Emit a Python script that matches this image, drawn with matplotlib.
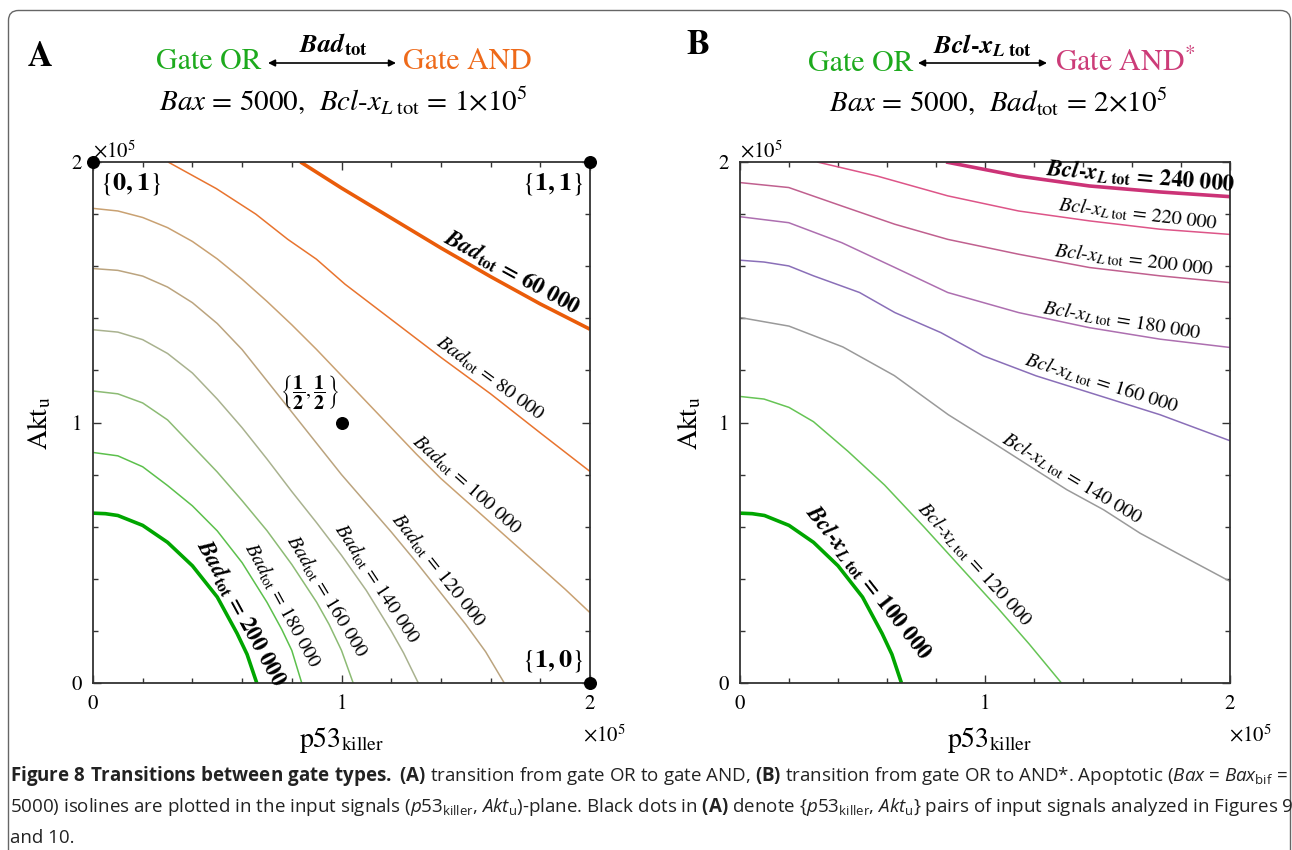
import numpy as np
import matplotlib
matplotlib.use('Agg')
import matplotlib.pyplot as plt
import matplotlib.transforms as mtransforms
from matplotlib.patches import FancyBboxPatch, FancyArrowPatch
from matplotlib.ticker import MultipleLocator

plt.rcParams['font.family'] = 'STIXGeneral'
plt.rcParams['mathtext.fontset'] = 'stix'
# the caption uses a sans "custom" math set
plt.rcParams['mathtext.rm'] = 'Open Sans'
plt.rcParams['mathtext.it'] = 'Open Sans:italic'
plt.rcParams['mathtext.bf'] = 'Open Sans:bold'

# ---------------- data (units of 1e5) ----------------
# panel A : isolines Bax = 5000 for several Bad_tot, Bcl-xL_tot = 1e5
bad60_x = [0.835, 1.0, 1.2, 1.4, 1.6, 1.8, 2.0]
bad60_y = [2.0, 1.90, 1.785, 1.67, 1.56, 1.455, 1.358]
bad80_x = [0.302, 0.496, 0.655, 0.784, 0.899, 1.014, 1.216, 1.4, 1.6, 1.8, 2.0]
bad80_y = [2.0, 1.898, 1.80, 1.703, 1.627, 1.531, 1.384, 1.25, 1.11, 0.96, 0.812]
bad100_x = [0, 0.1, 0.2, 0.3, 0.4, 0.5, 0.6, 0.7, 0.8, 0.9, 1.0, 1.1, 1.2, 1.3, 1.4, 1.5, 1.6, 1.7, 1.8, 1.9, 2.0]
bad100_y = [1.822, 1.812, 1.787, 1.748, 1.695, 1.628, 1.55, 1.465, 1.375, 1.28, 1.18, 1.08, 0.98, 0.88,
            0.785, 0.70, 0.615, 0.53, 0.445, 0.36, 0.27]
bad120_x = [0, 0.1, 0.2, 0.3, 0.4, 0.5, 0.6, 0.7, 0.8, 0.9, 1.0, 1.1, 1.2, 1.3, 1.4, 1.5, 1.58, 1.655]
bad120_y = [1.591, 1.584, 1.562, 1.52, 1.46, 1.38, 1.28, 1.16, 1.04, 0.92, 0.80, 0.69, 0.58, 0.465,
            0.345, 0.225, 0.12, 0.0]
bad140_x = [0, 0.1, 0.2, 0.3, 0.4, 0.5, 0.6, 0.7, 0.8, 0.9, 1.0, 1.1, 1.2, 1.25, 1.309]
bad140_y = [1.356, 1.347, 1.318, 1.265, 1.19, 1.09, 0.98, 0.86, 0.735, 0.615, 0.49, 0.355, 0.2, 0.115, 0.0]
bad160_x = [0, 0.1, 0.2, 0.3, 0.4, 0.5, 0.6, 0.7, 0.8, 0.9, 0.95, 1.0, 1.047]
bad160_y = [1.121, 1.11, 1.075, 1.01, 0.91, 0.81, 0.70, 0.585, 0.455, 0.31, 0.225, 0.125, 0.0]
bad180_x = [0, 0.1, 0.2, 0.3, 0.4, 0.5, 0.6, 0.7, 0.76, 0.8, 0.84]
bad180_y = [0.885, 0.872, 0.83, 0.758, 0.68, 0.584, 0.462, 0.31, 0.205, 0.125, 0.0]
bad200_x = [0, 0.05, 0.1, 0.2, 0.3, 0.4, 0.5, 0.58, 0.62, 0.659]
bad200_y = [0.652, 0.65, 0.643, 0.605, 0.54, 0.45, 0.33, 0.19, 0.11, 0.0]
bad_names = ['60 000', '80 000', '100 000', '120 000', '140 000', '160 000', '180 000', '200 000']

# panel B : isolines for several Bcl-xL_tot, Bad_tot = 2e5
bcl240_x = [0.841, 1.137, 1.426, 1.714, 2.0]
bcl240_y = [2.0, 1.946, 1.908, 1.885, 1.867]
bcl220_x = [0.315, 0.56, 0.848, 1.137, 1.426, 1.714, 2.0]
bcl220_y = [2.0, 1.946, 1.87, 1.812, 1.774, 1.742, 1.722]
bcl200_x = [0, 0.199, 0.416, 0.632, 0.848, 1.137, 1.426, 1.714, 2.0]
bcl200_y = [1.921, 1.902, 1.831, 1.761, 1.703, 1.646, 1.595, 1.563, 1.537]
bcl180_x = [0, 0.199, 0.416, 0.632, 0.848, 1.137, 1.426, 1.714, 2.0]
bcl180_y = [1.79, 1.767, 1.69, 1.595, 1.499, 1.422, 1.364, 1.32, 1.288]
bcl160_x = [0, 0.098, 0.199, 0.3, 0.488, 0.632, 0.82, 0.993, 1.209, 1.426, 1.714, 2.0]
bcl160_y = [1.623, 1.616, 1.601, 1.563, 1.499, 1.422, 1.345, 1.256, 1.179, 1.115, 1.03, 0.93]
bcl140_x = [0, 0.2, 0.42, 0.63, 0.85, 1.035, 1.185, 1.334, 1.484, 1.633, 1.783, 2.0]
bcl140_y = [1.403, 1.37, 1.29, 1.18, 1.03, 0.921, 0.831, 0.742, 0.665, 0.575, 0.499, 0.39]
bcl120_x = [0, 0.098, 0.2, 0.3, 0.44, 0.59, 0.75, 0.9, 1.05, 1.18, 1.312]
bcl120_y = [1.1, 1.09, 1.058, 1.003, 0.89, 0.76, 0.60, 0.445, 0.29, 0.15, 0.0]
bcl100_x = [0, 0.05, 0.1, 0.2, 0.3, 0.4, 0.5, 0.58, 0.62, 0.659]
bcl100_y = [0.652, 0.65, 0.643, 0.605, 0.54, 0.45, 0.33, 0.19, 0.11, 0.0]
bcl_names = ['240 000', '220 000', '200 000', '180 000', '160 000', '140 000', '120 000', '100 000']

# analysed input pairs (black dots in A)
dot_x = [0, 2, 2, 1]
dot_y = [2, 2, 0, 1]

# ---------------- styles ----------------
a_curves = [(bad60_x, bad60_y), (bad80_x, bad80_y), (bad100_x, bad100_y), (bad120_x, bad120_y),
            (bad140_x, bad140_y), (bad160_x, bad160_y), (bad180_x, bad180_y), (bad200_x, bad200_y)]
a_colors = ['#ea5c0a', '#e8742f', '#c9a172', '#bba47f', '#a9b28f', '#8cbb74', '#5cc04c', '#00a600']
a_lw = [2.6, 1.1, 1.1, 1.1, 1.1, 1.1, 1.1, 2.6]
a_lab_x = [1.66, 1.57, 1.47, 1.35, 1.1, 0.9, 0.72, 0.55]

b_curves = [(bcl240_x, bcl240_y), (bcl220_x, bcl220_y), (bcl200_x, bcl200_y), (bcl180_x, bcl180_y),
            (bcl160_x, bcl160_y), (bcl140_x, bcl140_y), (bcl120_x, bcl120_y), (bcl100_x, bcl100_y)]
b_colors = ['#cc3377', '#dd5588', '#c0608f', '#ad6fb0', '#8a6fb8', '#9a9a9a', '#66c455', '#00a600']
b_lw = [2.6, 1.1, 1.1, 1.1, 1.1, 1.1, 1.1, 2.6]
b_lab_x = [1.63, 1.62, 1.6, 1.55, 1.46, 1.33, 0.92, 0.48]

W, H = 1292, 850
fig = plt.figure(figsize=(W / 100, H / 100), dpi=100)


def fx(px):
    return px / W


def fy(py):
    return 1 - py / H


def setup(ax):
    ax.set_xlim(0, 2)
    ax.set_ylim(0, 2)
    ax.xaxis.set_major_locator(MultipleLocator(1))
    ax.yaxis.set_major_locator(MultipleLocator(1))
    ax.xaxis.set_minor_locator(MultipleLocator(0.2))
    ax.yaxis.set_minor_locator(MultipleLocator(0.2))
    ax.tick_params(which='both', direction='in', top=True, right=True, color='#333333', width=1.0)
    ax.tick_params(which='major', length=6, labelsize=15, pad=8)
    ax.tick_params(which='minor', length=3.5)
    for s in ax.spines.values():
        s.set_color('#333333')
        s.set_linewidth(1.3)


def curve_label(ax, xs, ys, x0, text, bold):
    y0 = np.interp(x0, xs, ys)
    p1 = ax.transData.transform((x0 - 0.02, np.interp(x0 - 0.02, xs, ys)))
    p2 = ax.transData.transform((x0 + 0.02, np.interp(x0 + 0.02, xs, ys)))
    ang = np.degrees(np.arctan2(p2[1] - p1[1], p2[0] - p1[0]))
    gap = 1.5
    ax.annotate(text, (x0, y0), xytext=(-np.sin(np.radians(ang)) * gap, np.cos(np.radians(ang)) * gap),
                textcoords='offset points', rotation=ang, rotation_mode='anchor',
                ha='center', va='bottom', fontsize=16.5 if bold else 14.5,
                fontweight='bold' if bold else 'normal', annotation_clip=False)


axA = fig.add_axes([fx(93), fy(683), fx(590) - fx(93), fy(162) - fy(683)])
axB = fig.add_axes([fx(740), fy(683), fx(1230) - fx(740), fy(162) - fy(683)])
setup(axA)
setup(axB)

for i in range(len(a_curves)):
    xs, ys = a_curves[i]
    axA.plot(xs, ys, color=a_colors[i], lw=a_lw[i], solid_capstyle='butt')
    bold = a_lw[i] > 2
    if bold:
        txt = r'$\boldsymbol{Bad}_{\mathbf{tot}}$ = ' + bad_names[i]
    else:
        txt = r'$Bad_{\mathrm{tot}}$ = ' + bad_names[i]
    curve_label(axA, xs, ys, a_lab_x[i], txt, bold)

for i in range(len(b_curves)):
    xs, ys = b_curves[i]
    axB.plot(xs, ys, color=b_colors[i], lw=b_lw[i], solid_capstyle='butt')
    bold = b_lw[i] > 2
    if bold:
        txt = r'$\boldsymbol{Bcl}$-$\boldsymbol{x}_{\boldsymbol{L}\ \mathbf{tot}}$ = ' + bcl_names[i]
    else:
        txt = r'$Bcl$-$x_{L\ \mathrm{tot}}$ = ' + bcl_names[i]
    curve_label(axB, xs, ys, b_lab_x[i], txt, bold)

# dots and their labels
axA.scatter(dot_x, dot_y, s=70, color='black', zorder=5, clip_on=False)
axA.text(0.03, 1.965, r'$\{\mathbf{0,1}\}$', ha='left', va='top', fontsize=19)
axA.text(1.975, 1.965, r'$\{\mathbf{1,1}\}$', ha='right', va='top', fontsize=19)
axA.text(1.975, 0.035, r'$\{\mathbf{1,0}\}$', ha='right', va='bottom', fontsize=19)
axA.text(0.99, 1.04, r'$\left\{\dfrac{\mathbf{1}}{\mathbf{2}},\dfrac{\mathbf{1}}{\mathbf{2}}\right\}$',
         ha='right', va='bottom', fontsize=14.5)

# axis labels and multipliers
for ax, ylx, xlx in [(axA, 40, 342), (axB, 690, 990)]:
    fig.text(fx(ylx), fy(423), r'Akt$_{\mathrm{u}}$', rotation=90, ha='center', va='center', fontsize=20)
    fig.text(fx(xlx), fy(740), r'p53$_{\mathrm{killer}}$', ha='center', va='center', fontsize=20)
fig.text(fx(93), fy(157), r'$\times10^{5}$', ha='left', va='baseline', fontsize=15)
fig.text(fx(740), fy(157), r'$\times10^{5}$', ha='left', va='baseline', fontsize=15)
fig.text(fx(604), fy(741), r'$\times10^{5}$', ha='center', va='baseline', fontsize=15)
fig.text(fx(1250), fy(741), r'$\times10^{5}$', ha='center', va='baseline', fontsize=15)

# panel titles
green = '#1daa1d'
orange = '#ee6a1a'
magenta = '#cc3c78'
fig.text(fx(40), fy(58), 'A', ha='center', va='center', fontsize=25, fontweight='bold')
fig.text(fx(698), fy(45), 'B', ha='center', va='center', fontsize=25, fontweight='bold')

fig.text(fx(262), fy(62), 'Gate OR', color=green, ha='right', va='center', fontsize=21.5)
fig.text(fx(403), fy(62), 'Gate AND', color=orange, ha='left', va='center', fontsize=21.5)
fig.text(fx(333), fy(45), r'$\boldsymbol{Bad}_{\mathbf{tot}}$', ha='center', va='center', fontsize=19)
fig.text(fx(343), fy(101), r'$Bax$ = 5000,  $Bcl$-$x_{L\ \mathrm{tot}}$ = 1$\times$10$^{5}$',
         ha='center', va='center', fontsize=21)

fig.text(fx(913), fy(64), 'Gate OR', color=green, ha='right', va='center', fontsize=21.5)
fig.text(fx(1055), fy(64), r'Gate AND$^{*}$', color=magenta, ha='left', va='center', fontsize=21.5)
fig.text(fx(983), fy(46), r'$\boldsymbol{Bcl}$-$\boldsymbol{x}_{\boldsymbol{L}\ \mathbf{tot}}$',
         ha='center', va='center', fontsize=19, fontweight='bold')
fig.text(fx(998), fy(102), r'$Bax$ = 5000,  $Bad_{\mathrm{tot}}$ = 2$\times$10$^{5}$',
         ha='center', va='center', fontsize=21)

for x0, x1 in [(268, 396), (918, 1047)]:
    fig.add_artist(FancyArrowPatch((fx(x0), fy(63)), (fx(x1), fy(63)), transform=fig.transFigure,
                                   arrowstyle='<|-|>', mutation_scale=10, lw=1.2, color='black',
                                   shrinkA=0, shrinkB=0))

# caption
cap1 = (r'$\mathbf{Figure\ 8\ Transitions\ between\ gate\ types.\ (A)}$ transition from gate OR to gate AND, '
        r'$\mathbf{(B)}$ transition from gate OR to AND*. Apoptotic ($Bax$ = $Bax_{\mathrm{bif}}$ =')
cap2 = (r'5000) isolines are plotted in the input signals ($\mathit{p53}_{\mathrm{killer}}$, $Akt_{\mathrm{u}}$)-plane. '
        r'Black dots in $\mathbf{(A)}$ denote {$\mathit{p53}_{\mathrm{killer}}$, $Akt_{\mathrm{u}}$} '
        r'pairs of input signals analyzed in Figures 9')
cap3 = 'and 10.'
caps = []
for txt, base in [(cap1, 781), (cap2, 812), (cap3, 843)]:
    caps.append(fig.text(fx(10), fy(base), txt, ha='left', va='baseline', fontsize=12,
                         family='Open Sans', math_fontfamily='custom', color='#222222'))
renderer = fig.canvas.get_renderer()
wcap = caps[0].get_window_extent(renderer).width
for t in caps:
    t.set_fontsize(12 * 1275 / wcap)

# outer frame
fig.add_artist(FancyBboxPatch((8.5, -60), 1282, H - 10.5 + 60, boxstyle='round,pad=0,rounding_size=10',
                              transform=mtransforms.IdentityTransform(), fc='none', ec='#666666', lw=1.0))

fig.savefig('out.png', dpi=100)
